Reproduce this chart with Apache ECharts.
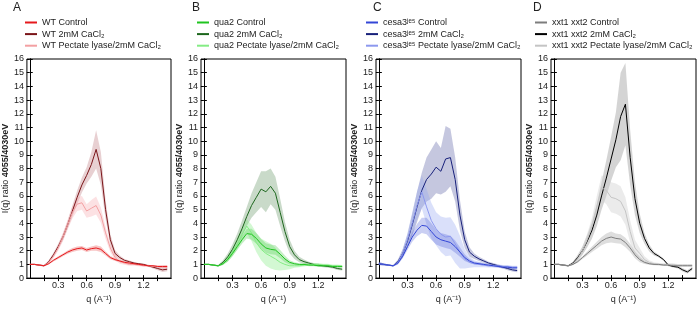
<!DOCTYPE html>
<html>
<head>
<meta charset="utf-8">
<script src="https://cdn.jsdelivr.net/npm/echarts@6/dist/echarts.min.js"></script>
<style>
  html, body { margin: 0; padding: 0; background: #fff; }
  #chart { width: 697px; height: 309px; }
</style>
</head>
<body>
<div id="chart"></div>
<script>
// q values (A^-1)
const q = [0, 0.05, 0.1, 0.15, 0.2, 0.25, 0.3, 0.35, 0.4, 0.45, 0.5, 0.55, 0.6, 0.65, 0.7,
  0.75, 0.8, 0.85, 0.9, 0.95, 1.0, 1.05, 1.1, 1.15, 1.2, 1.25, 1.3, 1.35, 1.4, 1.45]
const xTickLabels = [0.3, 0.6, 0.9, 1.2]

// A - WT
const wtCtrl = [1.0, 1.0, 0.95, 0.9, 1.05, 1.3, 1.5, 1.7, 1.9, 2.05, 2.15, 2.2, 2.05, 2.15, 2.2, 2.1, 1.8, 1.5, 1.35, 1.25, 1.15, 1.1, 1.05, 1.0, 0.95, 0.9, 0.9, 0.85, 0.85, 0.85]
const wtCtrlSd = [0.05, 0.05, 0.05, 0.05, 0.05, 0.08, 0.1, 0.1, 0.12, 0.15, 0.15, 0.15, 0.15, 0.15, 0.2, 0.2, 0.15, 0.12, 0.1, 0.08, 0.08, 0.06, 0.06, 0.05, 0.05, 0.05, 0.05, 0.06, 0.08, 0.1]
const wtCa = [1.0, 1.0, 0.95, 0.9, 1.2, 1.7, 2.3, 3.0, 3.9, 4.9, 5.9, 6.8, 7.5, 8.3, 9.4, 8.0, 5.0, 2.8, 1.8, 1.5, 1.3, 1.2, 1.1, 1.05, 1.0, 0.9, 0.8, 0.7, 0.6, 0.65]
const wtCaSd = [0.05, 0.05, 0.05, 0.05, 0.1, 0.15, 0.2, 0.25, 0.3, 0.4, 0.5, 0.55, 0.6, 0.9, 1.4, 1.2, 0.7, 0.4, 0.25, 0.15, 0.1, 0.08, 0.08, 0.06, 0.06, 0.08, 0.1, 0.12, 0.15, 0.15]
const wtPl = [1.0, 1.0, 0.95, 0.9, 1.15, 1.6, 2.2, 3.0, 3.9, 4.8, 5.4, 5.5, 4.9, 5.1, 5.3, 4.6, 3.3, 2.2, 1.5, 1.2, 1.1, 1.0, 1.0, 0.95, 0.9, 0.9, 0.85, 0.85, 0.8, 0.8]
const wtPlSd = [0.05, 0.05, 0.05, 0.05, 0.1, 0.15, 0.2, 0.3, 0.35, 0.45, 0.5, 0.5, 0.5, 0.6, 0.65, 0.55, 0.45, 0.3, 0.2, 0.15, 0.12, 0.1, 0.1, 0.08, 0.08, 0.08, 0.08, 0.08, 0.08, 0.08]

// B - qua2
const quaCtrl = [1.0, 1.0, 0.95, 0.9, 1.05, 1.35, 1.8, 2.3, 2.8, 3.25, 3.2, 2.9, 2.5, 2.2, 2.1, 2.05, 1.75, 1.4, 1.15, 1.05, 1.0, 1.0, 0.95, 0.95, 0.9, 0.9, 0.9, 0.85, 0.85, 0.85]
const quaCtrlSd = [0.05, 0.05, 0.05, 0.05, 0.1, 0.15, 0.2, 0.25, 0.3, 0.35, 0.4, 0.4, 0.35, 0.35, 0.35, 0.35, 0.3, 0.25, 0.15, 0.1, 0.08, 0.08, 0.08, 0.08, 0.08, 0.08, 0.08, 0.08, 0.08, 0.08]
const quaCa = [1.0, 1.0, 0.95, 0.9, 1.15, 1.55, 2.1, 2.8, 3.6, 4.5, 5.3, 5.9, 6.5, 6.3, 6.7, 6.2, 4.8, 3.4, 2.3, 1.7, 1.35, 1.2, 1.1, 1.0, 0.95, 0.9, 0.85, 0.8, 0.7, 0.65]
const quaCaSd = [0.05, 0.05, 0.05, 0.05, 0.15, 0.25, 0.35, 0.45, 0.6, 0.7, 0.9, 1.1, 1.3, 1.5, 1.3, 1.2, 1.0, 0.7, 0.5, 0.3, 0.2, 0.15, 0.1, 0.1, 0.1, 0.1, 0.1, 0.1, 0.1, 0.1]
const quaPl = [1.0, 1.0, 0.95, 0.9, 1.05, 1.4, 1.9, 2.5, 3.2, 3.8, 3.3, 2.6, 2.1, 1.8, 1.6, 1.4, 1.15, 1.0, 0.9, 0.9, 0.9, 0.95, 1.0, 1.0, 1.0, 0.95, 0.95, 0.9, 0.9, 0.85]
const quaPlSd = [0.05, 0.05, 0.05, 0.05, 0.1, 0.2, 0.3, 0.4, 0.5, 0.5, 0.6, 0.7, 0.8, 0.9, 0.9, 0.8, 0.6, 0.4, 0.25, 0.15, 0.1, 0.1, 0.1, 0.1, 0.1, 0.1, 0.1, 0.1, 0.1, 0.1]

// C - cesa3je5
const cesCtrl = [1.05, 1.0, 0.95, 0.9, 1.1, 1.6, 2.3, 3.0, 3.5, 3.85, 3.8, 3.4, 3.0, 2.8, 2.7, 2.6, 2.3, 1.9, 1.5, 1.25, 1.1, 1.05, 1.0, 0.95, 0.9, 0.85, 0.8, 0.8, 0.75, 0.75]
const cesCtrlSd = [0.1, 0.08, 0.05, 0.05, 0.1, 0.15, 0.25, 0.35, 0.45, 0.55, 0.6, 0.6, 0.55, 0.5, 0.5, 0.5, 0.45, 0.35, 0.25, 0.15, 0.1, 0.1, 0.1, 0.1, 0.1, 0.1, 0.1, 0.1, 0.1, 0.1]
const cesCa = [1.05, 1.0, 0.95, 0.9, 1.2, 1.8, 2.7, 3.9, 5.2, 6.4, 7.2, 7.6, 8.1, 7.8, 8.7, 8.8, 7.2, 4.6, 2.8, 1.9, 1.6, 1.4, 1.25, 1.1, 1.0, 0.9, 0.8, 0.7, 0.6, 0.55]
const cesCaSd = [0.1, 0.08, 0.05, 0.05, 0.15, 0.3, 0.5, 0.8, 1.1, 1.3, 1.6, 1.8, 1.9, 1.7, 2.4, 2.1, 1.6, 1.1, 0.6, 0.35, 0.2, 0.15, 0.12, 0.1, 0.1, 0.1, 0.1, 0.12, 0.12, 0.12]
const cesPl = [1.05, 1.0, 0.95, 0.9, 1.15, 1.8, 2.8, 4.0, 5.3, 6.3, 5.2, 4.2, 3.6, 3.2, 3.0, 3.05, 2.5, 1.9, 1.4, 1.15, 1.05, 1.0, 0.95, 0.9, 0.9, 0.9, 0.85, 0.85, 0.8, 0.8]
const cesPlSd = [0.1, 0.08, 0.05, 0.05, 0.15, 0.3, 0.5, 0.8, 1.0, 1.2, 1.3, 1.3, 1.2, 1.3, 1.4, 1.4, 1.4, 1.2, 0.7, 0.4, 0.25, 0.2, 0.15, 0.12, 0.1, 0.1, 0.1, 0.1, 0.1, 0.1]

// D - xxt1 xxt2
const xxCtrl = [1.0, 1.0, 0.95, 0.9, 1.0, 1.2, 1.5, 1.8, 2.1, 2.4, 2.7, 2.9, 3.0, 2.9, 2.85, 2.6, 2.2, 1.7, 1.35, 1.15, 1.05, 1.0, 1.0, 0.95, 0.95, 0.9, 0.9, 0.9, 0.9, 0.9]
const xxCtrlSd = [0.05, 0.05, 0.05, 0.05, 0.05, 0.08, 0.1, 0.15, 0.2, 0.25, 0.3, 0.35, 0.4, 0.35, 0.35, 0.35, 0.3, 0.25, 0.2, 0.12, 0.08, 0.06, 0.06, 0.06, 0.06, 0.06, 0.06, 0.06, 0.06, 0.06]
const xxCa = [1.0, 1.0, 0.95, 0.9, 1.1, 1.5, 2.0, 2.7, 3.5, 4.6, 6.0, 7.3, 8.7, 10.1, 11.8, 12.7, 8.8, 5.8, 4.0, 2.9, 2.2, 1.8, 1.6, 1.35, 0.95, 0.85, 0.8, 0.6, 0.45, 0.7]
const xxCaSd = [0.05, 0.05, 0.05, 0.05, 0.1, 0.2, 0.3, 0.45, 0.6, 0.8, 1.0, 1.3, 1.6, 2.0, 3.2, 3.0, 2.0, 1.2, 0.7, 0.4, 0.25, 0.15, 0.1, 0.08, 0.08, 0.08, 0.1, 0.12, 0.12, 0.12]
const xxPl = [1.0, 1.0, 0.95, 0.9, 1.05, 1.4, 2.0, 2.8, 3.8, 5.2, 6.6, 6.4, 5.9, 5.8, 5.6, 4.9, 3.4, 2.2, 1.8, 1.35, 1.15, 1.05, 1.0, 1.0, 1.0, 1.0, 0.95, 0.95, 0.95, 0.95]
const xxPlSd = [0.05, 0.05, 0.05, 0.05, 0.1, 0.2, 0.3, 0.45, 0.6, 0.8, 0.9, 1.0, 1.1, 1.1, 1.1, 1.0, 0.8, 0.6, 0.4, 0.25, 0.15, 0.1, 0.1, 0.08, 0.08, 0.08, 0.08, 0.08, 0.08, 0.08]

const panels = [
  {
    letter: 'A', left: 26, letterX: 13, legendX: 25,
    names: ['WT Control', 'WT 2mM CaCl₂', 'WT Pectate lyase/2mM CaCl₂'],
    means: [wtCtrl, wtCa, wtPl], sds: [wtCtrlSd, wtCaSd, wtPlSd],
    colors: ['#e5191c', '#7a1418', '#f3a0a2'],
    bands: ['rgba(235,90,90,0.35)', 'rgba(190,120,125,0.35)', 'rgba(245,170,175,0.35)']
  },
  {
    letter: 'B', left: 201, letterX: 192, legendX: 197,
    names: ['qua2 Control', 'qua2 2mM CaCl₂', 'qua2 Pectate lyase/2mM CaCl₂'],
    means: [quaCtrl, quaCa, quaPl], sds: [quaCtrlSd, quaCaSd, quaPlSd],
    colors: ['#1fc41f', '#1c661c', '#84ec84'],
    bands: ['rgba(70,200,70,0.3)', 'rgba(100,150,100,0.35)', 'rgba(130,235,130,0.35)']
  },
  {
    letter: 'C', left: 376, letterX: 373, legendX: 366,
    names: ['cesa3ʲᵉ⁵ Control', 'cesa3ʲᵉ⁵ 2mM CaCl₂', 'cesa3ʲᵉ⁵ Pectate lyase/2mM CaCl₂'],
    means: [cesCtrl, cesCa, cesPl], sds: [cesCtrlSd, cesCaSd, cesPlSd],
    colors: ['#3346d6', '#17207a', '#8c98ee'],
    bands: ['rgba(80,95,215,0.3)', 'rgba(110,115,175,0.4)', 'rgba(150,165,240,0.35)']
  },
  {
    letter: 'D', left: 551, letterX: 533, legendX: 535,
    names: ['xxt1 xxt2 Control', 'xxt1 xxt2 2mM CaCl₂', 'xxt1 xxt2 Pectate lyase/2mM CaCl₂'],
    means: [xxCtrl, xxCa, xxPl], sds: [xxCtrlSd, xxCaSd, xxPlSd],
    colors: ['#7d7d7d', '#000000', '#c4c4c4'],
    bands: ['rgba(160,160,160,0.35)', 'rgba(170,170,170,0.5)', 'rgba(205,205,205,0.4)']
  }
]

const font = 'Liberation Sans, Arial, sans-serif'
const gridTop = 59
const gridHeight = 224
const gridWidth = 145
const xMin = -0.03
const xMax = 1.49
const minorTicks = [0.15, 0.3, 0.45, 0.6, 0.75, 0.9, 1.05, 1.2, 1.35]

const grid = []
const xAxis = []
const yAxis = []
const series = []
const legend = []
const title = []

// shaded mean +/- sd band, drawn as one polygon through the axis scales
function bandSeries(axisIndex, mean, sd, color) {
  const rows = q.map((x, j) => [x, mean[j] - sd[j], mean[j] + sd[j]])
  return {
    type: 'custom', xAxisIndex: axisIndex, yAxisIndex: axisIndex,
    silent: true, clip: true, z: 1,
    encode: { x: 0, y: [1, 2] },
    data: rows,
    renderItem: (params, api) => {
      if (params.dataIndex !== 0) return null
      const upper = rows.map(r => api.coord([r[0], r[2]]))
      const lower = rows.map(r => api.coord([r[0], r[1]])).reverse()
      return {
        type: 'polygon',
        shape: { points: upper.concat(lower) },
        style: { fill: color }
      }
    }
  }
}

panels.forEach((p, i) => {
  grid.push({
    left: p.left, top: gridTop, width: gridWidth, height: gridHeight,
    show: true, borderColor: '#000', borderWidth: 1, backgroundColor: 'transparent'
  })
  xAxis.push({
    type: 'value', gridIndex: i, min: xMin, max: xMax, position: 'bottom',
    name: 'q (A⁻¹)', nameLocation: 'middle', nameGap: 15,
    nameTextStyle: { fontSize: 9, color: '#222', fontFamily: font },
    axisLine: { lineStyle: { color: '#000' } },
    splitLine: { show: false },
    axisTick: { inside: true, length: 3, customValues: minorTicks, lineStyle: { color: '#000' } },
    axisLabel: { customValues: xTickLabels, margin: 3, fontSize: 9, color: '#222', fontFamily: font, formatter: v => v.toFixed(1) }
  })
  xAxis.push({
    type: 'value', gridIndex: i, min: xMin, max: xMax, position: 'top',
    axisLine: { lineStyle: { color: '#000' } },
    splitLine: { show: false },
    axisTick: { inside: true, length: 3, customValues: minorTicks, lineStyle: { color: '#000' } },
    axisLabel: { show: false }
  })
  yAxis.push({
    type: 'value', gridIndex: i, min: 0, max: 16, interval: 1, position: 'left',
    name: '{n|I(q) ratio }{b|4055/4030eV}', nameLocation: 'middle', nameGap: 15, nameRotate: 90,
    nameTextStyle: {
      color: '#222', fontFamily: font,
      rich: {
        n: { fontSize: 9, color: '#222', fontFamily: font },
        b: { fontSize: 9, color: '#222', fontFamily: font, fontWeight: 'bold' }
      }
    },
    axisLine: { show: true, lineStyle: { color: '#000' } },
    splitLine: { show: false },
    axisTick: { inside: true, length: 3, lineStyle: { color: '#000' } },
    axisLabel: { margin: 3, fontSize: 9, color: '#222', fontFamily: font }
  })
  yAxis.push({
    type: 'value', gridIndex: i, min: 0, max: 16, interval: 1, position: 'right',
    axisLine: { show: true, lineStyle: { color: '#000' } },
    splitLine: { show: false },
    axisTick: { inside: true, length: 3, lineStyle: { color: '#000' } },
    axisLabel: { show: false }
  })

  // bands first (2mM, pectate, control), then the mean lines on top
  const order = [1, 2, 0]
  order.forEach(k => {
    series.push(bandSeries(i * 2, p.means[k], p.sds[k], p.bands[k]))
  })
  order.forEach(k => {
    series.push({
      type: 'line', xAxisIndex: i * 2, yAxisIndex: i * 2,
      name: p.names[k], symbol: 'none', z: 3,
      color: p.colors[k],
      lineStyle: { width: 1, color: p.colors[k] },
      data: q.map((x, j) => [x, p.means[k][j]])
    })
  })

  legend.push({
    data: p.names, left: p.legendX, top: 18, orient: 'vertical',
    icon: 'rect', itemWidth: 12, itemHeight: 2, itemGap: 2.6, padding: 0,
    selectedMode: false,
    textStyle: { fontSize: 9, color: '#222', fontFamily: font }
  })
  title.push({
    text: p.letter, left: p.letterX, top: 2, padding: 0,
    textStyle: { fontSize: 12, fontWeight: 'normal', color: '#222', fontFamily: font }
  })
})

const chart = echarts.init(document.getElementById('chart'))
chart.setOption({
  animation: false,
  title: title,
  legend: legend,
  grid: grid,
  xAxis: xAxis,
  yAxis: yAxis,
  series: series
})
</script>
</body>
</html>
